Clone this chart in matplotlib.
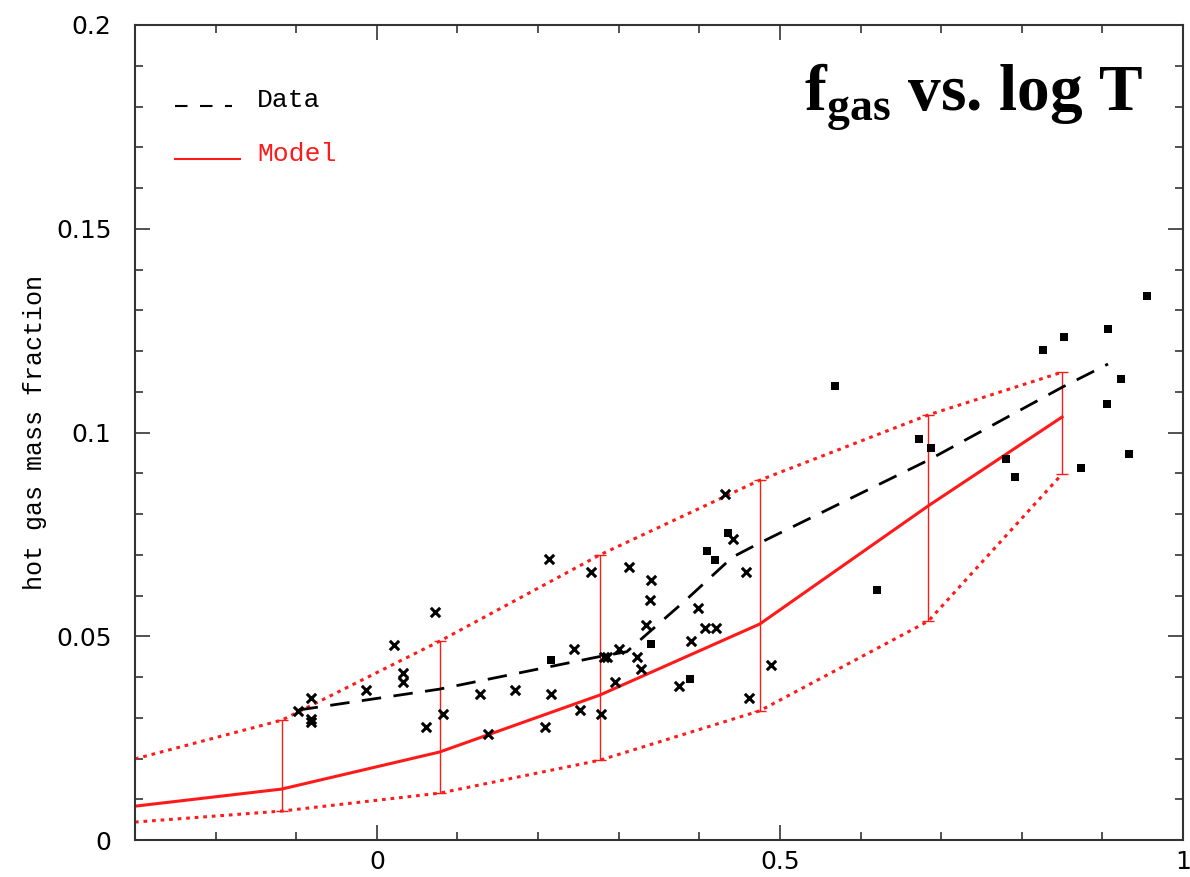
import matplotlib

matplotlib.use("Agg")
import matplotlib.pyplot as plt

# ---------------------------------------------------------------------------
#  Data
# ---------------------------------------------------------------------------

# model curve and its spread (red)
model_x = [-0.30, -0.118, 0.078, 0.277, 0.475, 0.684, 0.850]
model_y = [0.0083, 0.0125, 0.0216, 0.0356, 0.0530, 0.0820, 0.1038]
model_hi = [0.0199, 0.0294, 0.0488, 0.0700, 0.0883, 0.1043, 0.1148]
model_lo = [0.0044, 0.0071, 0.0115, 0.0196, 0.0317, 0.0537, 0.0898]

# data running mean (black dashed)
data_x = [-0.097, 0.077, 0.276, 0.310, 0.384, 0.441, 0.475, 0.684, 0.851, 0.907]
data_y = [0.0319, 0.0370, 0.0450, 0.0462, 0.0590, 0.0694, 0.0729, 0.0932, 0.1112, 0.1168]

# individual clusters, crosses
cross_x = [-0.098, -0.082, -0.082, -0.082, -0.014, 0.021, 0.033, 0.033, 0.061,
           0.072, 0.082, 0.128, 0.138, 0.171, 0.208, 0.214, 0.216, 0.244, 0.252,
           0.266, 0.278, 0.282, 0.286, 0.296, 0.301, 0.313, 0.323, 0.328, 0.334,
           0.340, 0.339, 0.375, 0.390, 0.398, 0.407, 0.421, 0.432, 0.442, 0.458,
           0.462, 0.489]
cross_y = [0.0317, 0.0348, 0.0297, 0.0290, 0.0368, 0.0479, 0.0410, 0.0388, 0.0277,
           0.0560, 0.0310, 0.0358, 0.0260, 0.0368, 0.0277, 0.0690, 0.0358, 0.0469,
           0.0319, 0.0658, 0.0310, 0.0449, 0.0449, 0.0388, 0.0469, 0.0670, 0.0449,
           0.0420, 0.0528, 0.0638, 0.0589, 0.0378, 0.0488, 0.0570, 0.0520, 0.0520,
           0.0849, 0.0739, 0.0658, 0.0348, 0.0430]

# individual clusters, squares
square_x = [0.216, 0.340, 0.389, 0.410, 0.420, 0.436, 0.568, 0.621, 0.673, 0.687,
            0.780, 0.791, 0.826, 0.852, 0.873, 0.906, 0.907, 0.923, 0.933, 0.955]
square_y = [0.0442, 0.0481, 0.0395, 0.0709, 0.0687, 0.0753, 0.1114, 0.0613, 0.0984,
            0.0962, 0.0935, 0.0891, 0.1202, 0.1234, 0.0913, 0.1070, 0.1254, 0.1131,
            0.0947, 0.1335]

x_ticks = [0, 0.5, 1]
x_labels = ["0", "0.5", "1"]
y_ticks = [0, 0.05, 0.1, 0.15, 0.2]
y_labels = ["0", "0.05", "0.1", "0.15", "0.2"]

# ---------------------------------------------------------------------------
#  Plot
# ---------------------------------------------------------------------------

plt.rcParams["mathtext.fontset"] = "custom"
plt.rcParams["mathtext.rm"] = "Liberation Serif:bold"
plt.rcParams["mathtext.bf"] = "Liberation Serif:bold"

RED = "#ff1a1a"
AXIS = "#333333"

fig = plt.figure(figsize=(11.9, 8.77), dpi=100)
ax = fig.add_axes([135 / 1190, 37 / 877, 1048 / 1190, 815 / 877])

# model spread envelope
ax.plot(model_x, model_hi, color=RED, ls=(0, (1.2, 1.6)), lw=2.2)
ax.plot(model_x, model_lo, color=RED, ls=(0, (1.2, 1.6)), lw=2.2)

# error bars at the model nodes (skip the left edge point)
bar_x = model_x[1:]
bar_y = model_y[1:]
err_lo = [m - lo for m, lo in zip(bar_y, model_lo[1:])]
err_hi = [hi - m for m, hi in zip(bar_y, model_hi[1:])]
ax.errorbar(bar_x, bar_y, yerr=[err_lo, err_hi], fmt="none", ecolor=RED,
            elinewidth=1.0, capsize=4, capthick=1.0)

ax.plot(model_x, model_y, color=RED, lw=2.2)
ax.plot(data_x, data_y, color="black", lw=2.0, ls=(0, (7, 4.5)))

ax.scatter(cross_x, cross_y, marker="x", s=45, color="black", linewidths=2.2, zorder=5)
ax.scatter(square_x, square_y, marker="s", s=36, color="black", linewidths=0, zorder=5)

ax.set_xlim(-0.3, 1.0)
ax.set_ylim(0, 0.2)
ax.set_xticks(x_ticks)
ax.set_xticklabels(x_labels)
ax.set_yticks(y_ticks)
ax.set_yticklabels(y_labels)
ax.set_xticks([v / 10 for v in range(-2, 10)], minor=True)
ax.set_yticks([v / 100 for v in range(1, 20)], minor=True)

ax.tick_params(which="both", direction="in", top=True, right=True, color=AXIS,
               labelsize=18, width=1.2)
ax.tick_params(which="major", length=11)
ax.tick_params(which="minor", length=6)
ax.tick_params(axis="y", pad=17)
ax.tick_params(axis="x", pad=7)
for spine in ax.spines.values():
    spine.set_color(AXIS)
    spine.set_linewidth(1.5)

ax.set_ylabel("hot gas mass fraction", family="Liberation Mono", fontsize=18)
ax.yaxis.set_label_coords(-0.084, 0.5)

# legend, drawn by hand like the original
ax.plot([0.038, 0.093], [0.9006, 0.9006], transform=ax.transAxes, color="black",
        lw=1.5, ls=(0, (6, 6)))
ax.text(0.1164, 0.899, "Data", transform=ax.transAxes, family="Liberation Mono",
        fontsize=19, color="black", va="baseline")
ax.plot([0.038, 0.100], [0.8356, 0.8356], transform=ax.transAxes, color=RED, lw=1.5)
ax.text(0.1164, 0.833, "Model", transform=ax.transAxes, family="Liberation Mono",
        fontsize=19, color=RED, va="baseline")

fig.text(1143 / 1190, 1 - 110 / 877, r"$\mathrm{f}_{\mathrm{gas}}$ vs. log T",
         family="Liberation Serif", fontweight="bold", fontsize=47,
         ha="right", va="baseline")

fig.savefig("out.png", dpi=100)
